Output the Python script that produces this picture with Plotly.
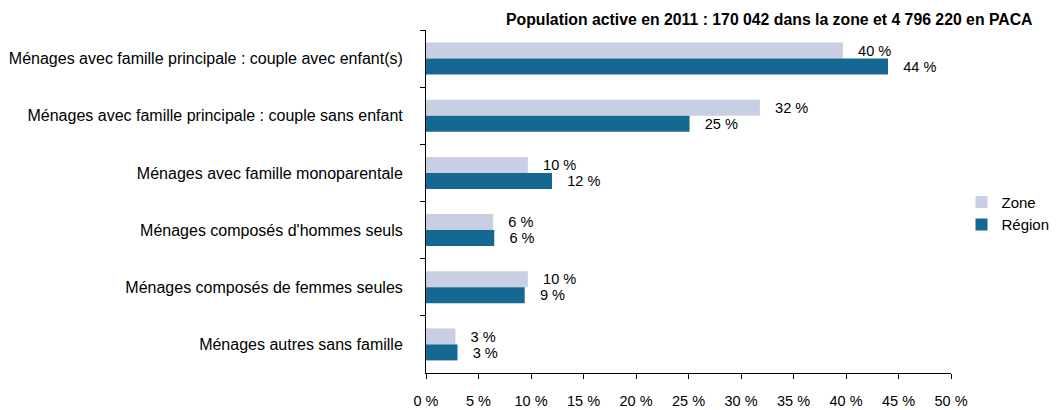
import plotly.graph_objects as go

categories = [
    "Ménages avec famille principale : couple avec enfant(s)",
    "Ménages avec famille principale : couple sans enfant",
    "Ménages avec famille monoparentale",
    "Ménages composés d'hommes seuls",
    "Ménages composés de femmes seules",
    "Ménages autres sans famille",
]
zone_values = [39.7, 31.8, 9.7, 6.4, 9.7, 2.8]
region_values = [44.0, 25.1, 12.0, 6.5, 9.4, 3.0]
zone_labels = ["40 %", "32 %", "10 %", "6 %", "10 %", "3 %"]
region_labels = ["44 %", "25 %", "12 %", "6 %", "9 %", "3 %"]
tick_values = [0, 5, 10, 15, 20, 25, 30, 35, 40, 45, 50]
tick_labels = ["0 %", "5 %", "10 %", "15 %", "20 %", "25 %", "30 %", "35 %", "40 %", "45 %", "50 %"]
title_text = "Population active en 2011 : 170 042 dans la zone et 4 796 220 en PACA"

FONT = "Liberation Sans, Arial, sans-serif"
ZONE_COLOR = "#C9CFE3"
REGION_COLOR = "#156892"
FS = 16

fig = go.Figure()
fig.add_trace(go.Bar(
    y=categories, x=zone_values, name="Zone", orientation="h",
    marker=dict(color=ZONE_COLOR, line=dict(width=0)),
    text=["   " + t for t in zone_labels], textposition="outside",
    textfont=dict(family=FONT, size=15.5, color="#000000"),
    cliponaxis=False,
))
fig.add_trace(go.Bar(
    y=categories, x=region_values, name="Région", orientation="h",
    marker=dict(color=REGION_COLOR, line=dict(width=0)),
    text=["   " + t for t in region_labels], textposition="outside",
    textfont=dict(family=FONT, size=15.5, color="#000000"),
    cliponaxis=False,
))

# page body has an 8px margin, so the figure is 8px smaller and shifted
fig.update_layout(
    width=1056, height=402,
    margin=dict(l=418, r=113, t=22, b=37, autoexpand=False),
    paper_bgcolor="white", plot_bgcolor="white",
    barmode="group", bargap=0.44, bargroupgap=0,
    font=dict(family=FONT, size=FS, color="#000000"),
    showlegend=True,
    legend=dict(x=1.02, y=0.466, xanchor="left", yanchor="middle",
                traceorder="normal",
                font=dict(family=FONT, size=15, color="#000000"),
                itemwidth=30, bgcolor="rgba(0,0,0,0)"),
    annotations=[dict(
        text="<b>" + title_text + "</b>",
        x=(1035 - 426) / 525, xref="paper", xanchor="right",
        y=1 + (30 - 19) / 343, yref="paper", yanchor="middle",
        showarrow=False, font=dict(family=FONT, size=15.8, color="#000000"),
    )],
)

fig.update_xaxes(
    range=[0, 50], tickvals=tick_values, ticktext=tick_labels,
    showgrid=False, zeroline=False, showline=True, linecolor="#000000", linewidth=1,
    ticks="outside", ticklen=5, tickcolor="#000000", ticklabelstandoff=10,
    tickfont=dict(family=FONT, size=14.5, color="#000000"),
)
fig.update_yaxes(
    autorange="reversed", showgrid=False, showline=True, linecolor="#000000", linewidth=1,
    ticks="outside", ticklen=5, tickcolor="#000000", tickson="boundaries",
    ticklabelstandoff=19,
    tickfont=dict(family=FONT, size=FS, color="#000000"),
)

fig.write_html("out.html")
